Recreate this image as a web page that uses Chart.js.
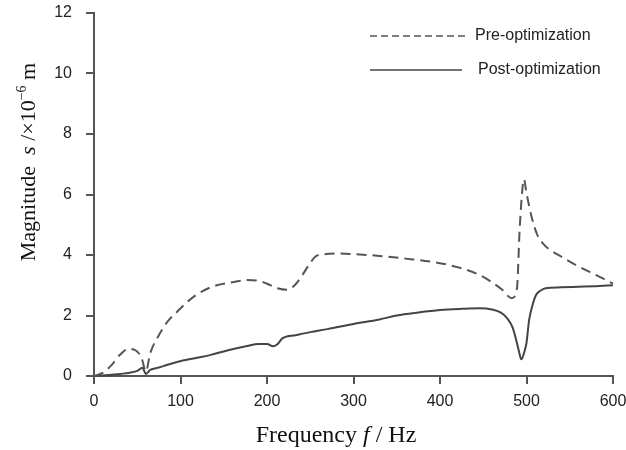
<!DOCTYPE html>
<html>
<head>
<meta charset="utf-8">
<script src="https://cdn.jsdelivr.net/npm/chart.js@4.4.1/dist/chart.umd.min.js"></script>
<style>
  html, body { margin: 0; padding: 0; background: #fff; }
  #wrap { width: 626px; height: 450px; }
</style>
</head>
<body>
<div id="wrap"><canvas id="respChart"></canvas></div>
<script>
// Frequency response
const freqPre = [0, 10, 20, 30, 40, 48, 55, 60, 65, 75, 85, 97, 110, 125, 142, 160, 177, 190, 200, 212, 223, 232, 240, 248, 256, 265, 280, 300, 330, 360, 390, 420, 445, 460, 472, 483, 489, 492, 495, 497, 500, 506, 512, 520, 527, 540, 550, 573, 590, 600];
const magPre = [0, 0.1, 0.35, 0.7, 0.9, 0.85, 0.6, 0.15, 0.75, 1.35, 1.8, 2.15, 2.5, 2.8, 3.0, 3.1, 3.17, 3.15, 3.05, 2.9, 2.85, 3.0, 3.3, 3.65, 3.95, 4.02, 4.05, 4.03, 3.97, 3.88, 3.78, 3.6, 3.35, 3.1, 2.85, 2.57, 2.9, 4.8, 6.1, 6.5, 6.05, 5.25, 4.7, 4.35, 4.17, 3.95, 3.78, 3.44, 3.2, 3.05];

const freqPost = [0, 10, 20, 30, 40, 50, 56, 60, 65, 75, 85, 97, 115, 134, 155, 177, 190, 200, 207, 212, 218, 233, 250, 270, 300, 330, 350, 375, 400, 425, 446, 460, 470, 478, 484, 488, 491, 494, 497, 500, 503, 507, 511, 516, 522, 540, 560, 580, 600];
const magPost = [0, 0.02, 0.04, 0.07, 0.1, 0.17, 0.27, 0.07, 0.2, 0.28, 0.37, 0.47, 0.58, 0.69, 0.85, 0.99, 1.06, 1.06, 0.98, 1.05, 1.25, 1.35, 1.45, 1.55, 1.72, 1.87, 2.0, 2.1, 2.18, 2.22, 2.24, 2.2, 2.1, 1.9, 1.6, 1.2, 0.85, 0.55, 0.75, 1.1, 1.85, 2.35, 2.68, 2.82, 2.9, 2.93, 2.95, 2.97, 3.0];

const xTicks = [0, 100, 200, 300, 400, 500, 600];
const yTicks = [0, 2, 4, 6, 8, 10, 12];

function toPoints(xs, ys) {
    return xs.map((x, i) => ({ x: x, y: ys[i] }));
}

const lineColor = '#555';
const serif = '"Liberation Serif", "DejaVu Serif", serif';
const sans = '"Liberation Sans", Arial, sans-serif';

// Draws mixed-style text pieces one after another
function drawPieces(ctx, pieces, x, y, align) {
    let total = 0;
    pieces.forEach(p => { ctx.font = p.font; total += ctx.measureText(p.text).width; });
    let cx = align === 'center' ? x - total / 2 : x;
    pieces.forEach(p => {
        ctx.font = p.font;
        ctx.fillText(p.text, cx, y + (p.dy || 0));
        cx += ctx.measureText(p.text).width;
    });
}

// Axis titles and legend placed like the original figure
const annotations = {
    id: 'annotations',
    afterDraw(chart) {
        const ctx = chart.ctx;
        ctx.save();
        ctx.fillStyle = '#111';
        ctx.textBaseline = 'alphabetic';
        ctx.textAlign = 'left';

        const big = '22px ' + serif;
        const bigIt = 'italic 22px ' + serif;
        drawPieces(ctx, [
            { text: 'Frequency ', font: '24px ' + serif },
            { text: 'f', font: 'italic 24px ' + serif },
            { text: ' / Hz', font: '24px ' + serif }
        ], 336, 442, 'center');

        ctx.save();
        ctx.translate(35, 162);
        ctx.rotate(-Math.PI / 2);
        drawPieces(ctx, [
            { text: 'Magnitude  ', font: big },
            { text: 's', font: bigIt },
            { text: ' /\u00d710', font: big },
            { text: '\u22126', font: '14px ' + serif, dy: -9 },
            { text: ' m', font: big }
        ], 0, 0, 'center');
        ctx.restore();

        // legend
        const rows = [
            { x0: 370, x1: 467, y: 36, tx: 475 },
            { x0: 370, x1: 462, y: 70, tx: 478 }
        ];
        chart.data.datasets.forEach((ds, i) => {
            const r = rows[i];
            ctx.strokeStyle = ds.borderColor;
            ctx.lineWidth = 1.6;
            ctx.setLineDash(ds.borderDash && ds.borderDash.length ? [7, 4] : []);
            ctx.beginPath();
            ctx.moveTo(r.x0, r.y);
            ctx.lineTo(r.x1, r.y);
            ctx.stroke();
            ctx.setLineDash([]);
            ctx.font = '16px ' + sans;
            ctx.fillStyle = '#222';
            ctx.textBaseline = 'middle';
            ctx.fillText(ds.label, r.tx, r.y);
        });
        ctx.restore();
    }
};

const ctx = document.getElementById('respChart').getContext('2d');
new Chart(ctx, {
    type: 'line',
    data: {
        datasets: [{
            label: 'Pre-optimization',
            data: toPoints(freqPre, magPre),
            borderColor: lineColor,
            borderWidth: 2,
            borderDash: [10, 6],
            pointRadius: 0,
            cubicInterpolationMode: 'monotone',
            clip: false
        }, {
            label: 'Post-optimization',
            data: toPoints(freqPost, magPost),
            borderColor: '#444',
            borderWidth: 2,
            pointRadius: 0,
            cubicInterpolationMode: 'monotone',
            clip: false
        }]
    },
    options: {
        responsive: true,
        maintainAspectRatio: false,
        animation: false,
        layout: { padding: { top: 13, right: 13, left: 0, bottom: 0 } },
        plugins: {
            legend: { display: false },
            tooltip: { enabled: false }
        },
        scales: {
            x: {
                type: 'linear',
                min: 0,
                max: 600,
                afterFit: scale => {
                    scale.height = 74;
                    scale.paddingLeft = 0;
                    scale.paddingRight = 0;
                },
                afterBuildTicks: scale => { scale.ticks = xTicks.map(v => ({ value: v })); },
                border: { color: lineColor, width: 2 },
                grid: { drawOnChartArea: false, tickLength: 8, color: lineColor, lineWidth: 2 },
                ticks: { color: '#222', padding: 8, font: { family: sans, size: 16 }, maxRotation: 0 }
            },
            y: {
                min: 0,
                max: 12,
                afterFit: scale => {
                    scale.width = 94;
                    scale.paddingTop = 0;
                    scale.paddingBottom = 0;
                },
                afterBuildTicks: scale => { scale.ticks = yTicks.map(v => ({ value: v })); },
                border: { color: lineColor, width: 2 },
                grid: { drawOnChartArea: false, tickLength: 8, color: lineColor, lineWidth: 2 },
                ticks: { color: '#222', padding: 14, font: { family: sans, size: 16 } }
            }
        }
    },
    plugins: [annotations]
});
</script>
</body>
</html>
